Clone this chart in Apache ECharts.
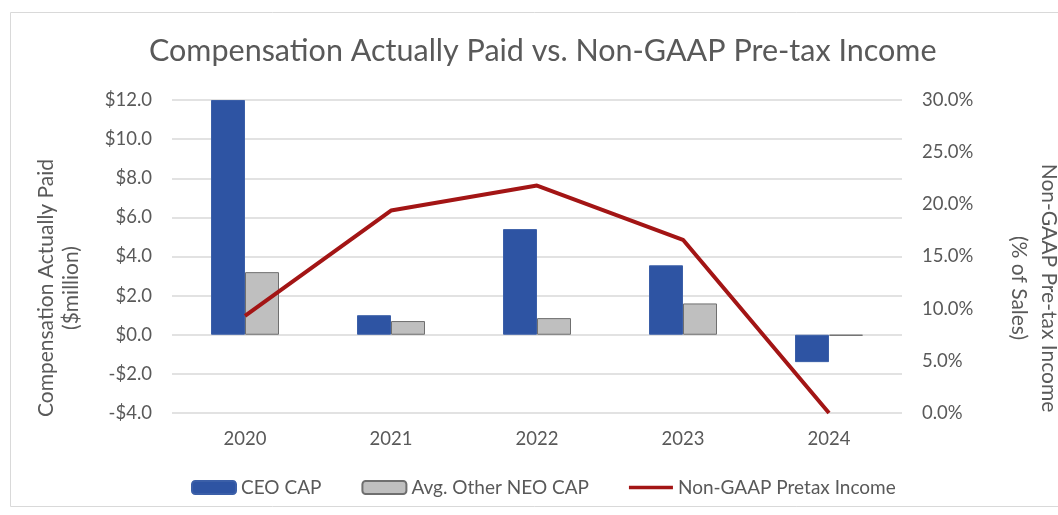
<!DOCTYPE html>
<html>
<head>
<meta charset="utf-8">
<script src="https://cdn.jsdelivr.net/npm/echarts@6/dist/echarts.min.js"></script>
<style>
  html, body { margin: 0; padding: 0; background: #fff; }
  #chart { width: 1058px; height: 515px; }
</style>
</head>
<body>
<div id="chart"></div>
<script>
// data
var years = ['2020', '2021', '2022', '2023', '2024'];
var ceoCap = [12.0, 1.0, 5.4, 3.55, -1.4];
var neoCap = [3.2, 0.7, 0.85, 1.6, -0.05];
var pretaxIncome = [0.093, 0.194, 0.218, 0.166, 0.0];

var textColor = '#595959';
var font = 'Lato';

var myChart = echarts.init(document.getElementById('chart'));
var option = {
    animation: false,
    textStyle: { fontFamily: font, color: textColor },
    title: {
        text: 'Compensation Actually Paid vs. Non-GAAP Pre-tax Income',
        left: 144,
        top: 31,
        textStyle: { fontFamily: font, fontSize: 30.5, fontWeight: 'normal', color: textColor }
    },
    // outer frame and axis titles
    graphic: [
        {
            type: 'rect',
            shape: { x: 10.5, y: 12.5, width: 1060, height: 494 },
            style: { fill: 'none', stroke: '#d9d9d9', lineWidth: 1 },
            silent: true
        },
        {
            type: 'text',
            x: 59, y: 288, rotation: Math.PI / 2,
            style: {
                text: 'Compensation Actually Paid\n($million)',
                font: '21px ' + font, fill: textColor,
                align: 'center', verticalAlign: 'middle', lineHeight: 25
            }
        },
        {
            type: 'text',
            x: 1034, y: 288, rotation: -Math.PI / 2,
            style: {
                text: 'Non-GAAP Pre-tax Income\n(% of Sales)',
                font: '21px ' + font, fill: textColor,
                align: 'center', verticalAlign: 'middle', lineHeight: 30
            }
        }
    ],
    legend: {
        bottom: 13,
        left: 186,
        itemGap: 40,
        itemWidth: 44,
        itemHeight: 13,
        textStyle: { fontFamily: font, fontSize: 19, color: textColor },
        data: [
            'CEO CAP',
            'Avg. Other NEO CAP',
            // thick line marker, padded top and bottom inside the icon box
            { name: 'Non-GAAP Pretax Income', icon: 'path://M0,0L0.01,0M0,4.5H50V8.5H0ZM0,13L0.01,13' }
        ]
    },
    grid: {
        left: 172,
        right: 156,
        top: 100,
        bottom: 102
    },
    xAxis: {
        type: 'category',
        data: years,
        axisLine: { show: false },
        axisTick: { show: false },
        axisLabel: { fontSize: 18.5, color: textColor, margin: 17 }
    },
    yAxis: [
        {
            type: 'value',
            min: -4,
            max: 12,
            interval: 2,
            axisLine: { show: false },
            axisTick: { show: false },
            splitLine: { lineStyle: { color: '#d9d9d9', width: 1.5 } },
            axisLabel: {
                fontSize: 18.5, color: textColor, margin: 20,
                formatter: function (v) {
                    return (v < 0 ? '-$' : '$') + Math.abs(v).toFixed(1);
                }
            }
        },
        {
            type: 'value',
            min: 0,
            max: 0.3,
            interval: 0.05,
            axisLine: { show: false },
            axisTick: { show: false },
            splitLine: { show: false },
            axisLabel: {
                fontSize: 18.5, color: textColor, margin: 20,
                formatter: function (v) {
                    return (v * 100).toFixed(1) + '%';
                }
            }
        }
    ],
    series: [
        {
            name: 'CEO CAP',
            type: 'bar',
            data: ceoCap,
            barWidth: 34,
            barGap: '0%',
            itemStyle: { color: '#2e54a3', borderColor: '#3b5fa8', borderWidth: 1 }
        },
        {
            name: 'Avg. Other NEO CAP',
            type: 'bar',
            data: neoCap,
            barWidth: 34,
            barGap: '0%',
            itemStyle: { color: '#bfbfbf', borderColor: '#6f6f6f', borderWidth: 1 }
        },
        {
            name: 'Non-GAAP Pretax Income',
            type: 'line',
            yAxisIndex: 1,
            data: pretaxIncome,
            symbol: 'none',
            lineStyle: { color: '#a31515', width: 4 },
            itemStyle: { color: '#a31515' }
        }
    ]
};
myChart.setOption(option);
</script>
</body>
</html>
